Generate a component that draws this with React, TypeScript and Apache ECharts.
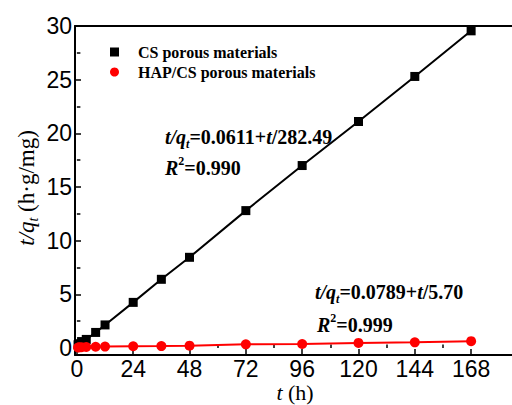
import React, { useEffect, useRef } from 'react';
import * as echarts from 'echarts';

const times = [0.5, 1, 2, 4, 8, 12, 24, 36, 48, 72, 96, 120, 144, 168];
const csValues = [0.3, 0.4, 0.6, 0.8, 1.45, 2.15, 4.25, 6.4, 8.45, 12.8, 17.0, 21.1, 25.3, 29.55];
const hapValues = [0.05, 0.06, 0.08, 0.09, 0.12, 0.13, 0.16, 0.18, 0.22, 0.34, 0.37, 0.47, 0.53, 0.64];
const xTicks = [0, 24, 48, 72, 96, 120, 144, 168];
const xMinorTicks = [12, 36, 60, 84, 108, 132, 156];
const yTicks = [0, 5, 10, 15, 20, 25, 30];
const yMinorTicks = [2.5, 7.5, 12.5, 17.5, 22.5, 27.5];
const seriesNames = ['CS porous materials', 'HAP/CS porous materials'];

const SERIF = 'Liberation Serif';
const SANS = 'Liberation Sans';

const GRID_LEFT = 75;
const GRID_TOP = 26;
const GRID_W = 460;
const GRID_H = 329;
const X_MIN = -0.8;
const X_PX = 415 / 168;
const X_MAX = X_MIN + GRID_W / X_PX;
const Y_MAX = 30;
const Y_PX = 322 / 30;
const Y_MIN = Y_MAX - GRID_H / Y_PX;

const axisLineStyle = { color: '#000', width: 2 };
const tickLineStyle = { color: '#000', width: 1.5 };

function eqRich(size: number) {
  return {
    bi: { fontFamily: SERIF, fontStyle: 'italic', fontWeight: 'bold', fontSize: size, lineHeight: size + 6, verticalAlign: 'middle', color: '#000' },
    b: { fontFamily: SERIF, fontWeight: 'bold', fontSize: size, lineHeight: size + 6, verticalAlign: 'middle', color: '#000' },
    sub: { fontFamily: SERIF, fontStyle: 'italic', fontWeight: 'bold', fontSize: Math.round(size * 0.6), lineHeight: Math.round(size * 0.6), verticalAlign: 'bottom', color: '#000' },
    sup: { fontFamily: SERIF, fontWeight: 'bold', fontSize: Math.round(size * 0.6), lineHeight: Math.round(size * 0.6), verticalAlign: 'top', color: '#000' },
  };
}

export default function App() {
  const ref = useRef<HTMLDivElement>(null);
  useEffect(() => {
    const chart = echarts.init(ref.current!, null, { renderer: 'svg' });
    const option: any = {
      animation: false,
      backgroundColor: '#fff',
      grid: { left: GRID_LEFT, top: GRID_TOP, width: GRID_W, height: GRID_H, containLabel: false },
      legend: {
        orient: 'vertical',
        left: 105,
        top: 39,
        itemWidth: 9,
        itemHeight: 9,
        itemGap: 4,
        data: [
          { name: seriesNames[0], icon: 'rect' },
          { name: seriesNames[1], icon: 'circle' },
        ],
        textStyle: { fontFamily: SERIF, fontWeight: 'bold', fontSize: 16, lineHeight: 16, color: '#000', padding: [0, 0, 0, 14] },
      },
      xAxis: [
        {
          type: 'value', min: X_MIN, max: X_MAX, position: 'bottom',
          axisLine: { show: true, onZero: false, lineStyle: axisLineStyle },
          axisTick: { show: true, inside: true, length: 6, customValues: xTicks, lineStyle: tickLineStyle },
          axisLabel: { show: true, customValues: xTicks, fontFamily: SANS, fontSize: 23, lineHeight: 22, color: '#000', margin: 3 },
          splitLine: { show: false },
        },
        {
          type: 'value', min: X_MIN, max: X_MAX, position: 'bottom',
          axisLine: { show: false },
          axisTick: { show: true, inside: true, length: 3.5, customValues: xMinorTicks, lineStyle: tickLineStyle },
          axisLabel: { show: false },
          splitLine: { show: false },
        },
        {
          type: 'value', min: X_MIN, max: X_MAX, position: 'top',
          axisLine: { show: true, onZero: false, lineStyle: axisLineStyle },
          axisTick: { show: false },
          axisLabel: { show: false },
          splitLine: { show: false },
        },
      ],
      yAxis: [
        {
          type: 'value', min: Y_MIN, max: Y_MAX, position: 'left',
          axisLine: { show: true, onZero: false, lineStyle: axisLineStyle },
          axisTick: { show: true, inside: true, length: 6, customValues: yTicks, lineStyle: tickLineStyle },
          axisLabel: { show: true, customValues: yTicks, fontFamily: SANS, fontSize: 23, color: '#000', margin: 3 },
          splitLine: { show: false },
        },
        {
          type: 'value', min: Y_MIN, max: Y_MAX, position: 'left',
          axisLine: { show: false },
          axisTick: { show: true, inside: true, length: 3.5, customValues: yMinorTicks, lineStyle: tickLineStyle },
          axisLabel: { show: false },
          splitLine: { show: false },
        },
      ],
      series: [
        {
          name: seriesNames[0], type: 'line', xAxisIndex: 0, yAxisIndex: 0,
          data: times.map((t, i) => [t, csValues[i]]),
          symbol: 'rect', symbolSize: 9,
          itemStyle: { color: '#000' },
          lineStyle: { color: '#000', width: 2 },
        },
        {
          name: seriesNames[1], type: 'line', xAxisIndex: 0, yAxisIndex: 0,
          data: times.map((t, i) => [t, hapValues[i]]),
          symbol: 'circle', symbolSize: 10,
          itemStyle: { color: '#ff0000' },
          lineStyle: { color: '#ff0000', width: 2 },
        },
      ],
      graphic: [
        {
          type: 'text', x: 26, y: 188, rotation: Math.PI / 2,
          style: {
            text: '{i|t/q}{s|t}{n| (h·g/mg)}',
            align: 'center', verticalAlign: 'middle',
            rich: {
              i: { fontFamily: SERIF, fontStyle: 'italic', fontSize: 23, lineHeight: 28, verticalAlign: 'middle', color: '#000' },
              s: { fontFamily: SERIF, fontStyle: 'italic', fontSize: 14, lineHeight: 14, verticalAlign: 'bottom', color: '#000' },
              n: { fontFamily: SERIF, fontSize: 23, lineHeight: 28, verticalAlign: 'middle', color: '#000' },
            },
          },
        },
        {
          type: 'text', x: 295, y: 392,
          style: {
            text: '{i|t}{n| (h)}',
            align: 'center', verticalAlign: 'middle',
            rich: {
              i: { fontFamily: SERIF, fontStyle: 'italic', fontSize: 22, lineHeight: 22, verticalAlign: 'middle', color: '#000' },
              n: { fontFamily: SERIF, fontSize: 22, lineHeight: 22, verticalAlign: 'middle', color: '#000' },
            },
          },
        },
        {
          type: 'text', x: 165, y: 137,
          style: { text: '{bi|t/q}{sub|t}{b|=0.0611+}{bi|t}{b|/282.49}', align: 'left', verticalAlign: 'middle', rich: eqRich(20) },
        },
        {
          type: 'text', x: 165, y: 168,
          style: { text: '{bi|R}{sup|2}{b|=0.990}', align: 'left', verticalAlign: 'middle', rich: eqRich(20) },
        },
        {
          type: 'text', x: 315, y: 292,
          style: { text: '{bi|t/q}{sub|t}{b|=0.0789+}{bi|t}{b|/5.70}', align: 'left', verticalAlign: 'middle', rich: eqRich(20) },
        },
        {
          type: 'text', x: 317, y: 325,
          style: { text: '{bi|R}{sup|2}{b|=0.999}', align: 'left', verticalAlign: 'middle', rich: eqRich(20) },
        },
      ],
    };
    chart.setOption(option);
    return () => chart.dispose();
  }, []);
  return <div ref={ref} style={{ position: 'absolute', left: 0, top: 0, width: 512, height: 405 }} />;
}
